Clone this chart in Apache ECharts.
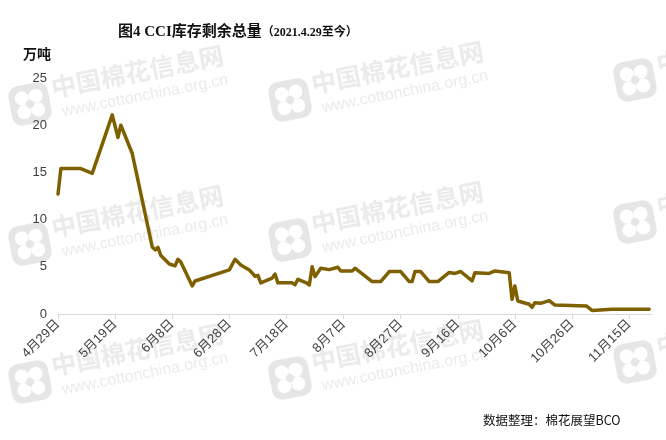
<!DOCTYPE html>
<html>
<head>
<meta charset="utf-8">
<script src="https://cdn.jsdelivr.net/npm/echarts@6/dist/echarts.min.js"></script>
<style>html,body{margin:0;padding:0;background:#fff}#c{width:666px;height:440px}</style>
</head>
<body>
<div id="c"></div>
<script>
// ---- data ----
const startDate = '2021-04-29';
const dates = ['2021-04-29','2021-04-30','2021-05-07','2021-05-11','2021-05-18','2021-05-20','2021-05-21','2021-05-25',
'2021-06-01','2021-06-02','2021-06-03','2021-06-04','2021-06-07','2021-06-09','2021-06-10','2021-06-11','2021-06-15','2021-06-16',
'2021-06-28','2021-06-30','2021-07-02','2021-07-05','2021-07-07','2021-07-08','2021-07-09','2021-07-13','2021-07-14','2021-07-15',
'2021-07-20','2021-07-21','2021-07-22','2021-07-25','2021-07-26','2021-07-27','2021-07-28','2021-07-30',
'2021-08-02','2021-08-05','2021-08-06','2021-08-10','2021-08-11','2021-08-17','2021-08-20','2021-08-23','2021-08-27','2021-08-30','2021-08-31',
'2021-09-01','2021-09-03','2021-09-06','2021-09-09','2021-09-13','2021-09-15','2021-09-17','2021-09-21','2021-09-22','2021-09-27','2021-09-29',
'2021-10-04','2021-10-05','2021-10-06','2021-10-07','2021-10-11','2021-10-12','2021-10-13','2021-10-15','2021-10-18','2021-10-20','2021-10-31',
'2021-11-02','2021-11-09','2021-11-22'];
const stock = [12.7,15.4,15.4,14.9,21.1,18.7,20.0,17.0,
7.1,6.8,7.05,6.2,5.3,5.1,5.8,5.5,2.97,3.5,
4.67,5.8,5.2,4.67,4.0,4.1,3.3,3.8,4.24,3.3,
3.3,3.1,3.68,3.3,3.07,5.0,3.96,4.85,
4.7,4.95,4.56,4.56,4.85,3.43,3.43,4.5,4.5,3.43,3.43,
4.5,4.5,3.43,3.43,4.4,4.3,4.5,3.5,4.38,4.3,4.56,
4.38,1.56,2.97,1.38,1.03,0.71,1.2,1.13,1.41,0.95,0.85,
0.38,0.5,0.5];
const xTickDays = [0,20,40,60,80,100,120,140,160,180,200];
const yTicks = [0,5,10,15,20,25];
const titleMain = '图4 CCI库存剩余总量';
const titleSub = '（2021.4.29至今）';
const unitLabel = '万吨';
const sourceLabel = '数据整理：棉花展望BCO';
const wmCN = '中国棉花信息网';
const wmURL = 'www.cottonchina.org.cn';

// ---- helpers ----
const DAY = 86400000;
const t0 = Date.parse(startDate + 'T00:00:00Z');
const dayIdx = s => Math.round((Date.parse(s + 'T00:00:00Z') - t0) / DAY);
const fmtDay = v => { const d = new Date(t0 + v * DAY); return (d.getUTCMonth() + 1) + '月' + d.getUTCDate() + '日'; };
const seriesData = dates.map((d, i) => [dayIdx(d), stock[i]]);

const CJK = '"Liberation Sans","Noto Sans CJK SC",sans-serif';
const SERIF = '"Liberation Serif","Noto Sans CJK SC",serif';
const WM = '#ebebeb';

function watermark(x, y) {
  return {
    type: 'group', x: x, y: y, rotation: 11 * Math.PI / 180, silent: true, z: -10,
    children: [
      { type: 'rect', shape: { x: -20, y: -20, width: 40, height: 40, r: 10 }, style: { fill: '#e6e6e6' } },
      { type: 'circle', shape: { cx: -7, cy: -7, r: 7 }, style: { fill: '#fff' } },
      { type: 'circle', shape: { cx: 7, cy: -7, r: 7 }, style: { fill: '#fff' } },
      { type: 'circle', shape: { cx: -7, cy: 7, r: 7 }, style: { fill: '#fff' } },
      { type: 'circle', shape: { cx: 7, cy: 7, r: 7 }, style: { fill: '#fff' } },
      { type: 'circle', shape: { cx: 0, cy: 0, r: 4 }, style: { fill: '#e6e6e6' } },
      { type: 'text', x: 24, y: -24, style: { text: wmCN, fill: WM, font: 'bold 25px "Noto Sans CJK SC", sans-serif' } },
      { type: 'text', x: 30, y: 6, style: { text: wmURL, fill: WM, font: '16px "Liberation Sans", sans-serif' } }
    ]
  };
}
const wmPos = [[30,104],[290,100],[635,80],[30,244],[290,240],[635,222],[30,382],[290,378],[635,362]];

const chart = echarts.init(document.getElementById('c'), null, { renderer: 'canvas' });
chart.setOption({
  animation: false,
  backgroundColor: '#fff',
  title: {
    text: '{a|' + titleMain + '}{b|' + titleSub + '}',
    left: 113, top: 20,
    textStyle: {
      rich: {
        a: { fontFamily: SERIF, fontWeight: 'bold', fontSize: 15, color: '#111' },
        b: { fontFamily: SERIF, fontWeight: 'bold', fontSize: 12, color: '#111' }
      }
    }
  },
  graphic: wmPos.map(p => watermark(p[0], p[1])).concat([
    { type: 'text', left: 23, top: 47, style: { text: unitLabel, fill: '#111', font: 'bold 14px "Noto Sans CJK SC", sans-serif' } },
    { type: 'text', left: 483, top: 414, style: { text: sourceLabel, fill: '#111', font: '12.5px "Noto Sans CJK SC", sans-serif' } }
  ]),
  grid: { left: 58, right: 14, top: 78, bottom: 126, containLabel: false },
  xAxis: {
    type: 'value', min: 0, max: 208, interval: 20,
    axisLine: { show: true, lineStyle: { color: '#d9d9d9', width: 1 } },
    axisTick: { show: true, length: 5, lineStyle: { color: '#d9d9d9' }, customValues: xTickDays },
    splitLine: { show: false },
    axisLabel: {
      customValues: xTickDays, rotate: 45, margin: 8,
      fontSize: 13, color: '#404040', fontFamily: CJK,
      formatter: v => fmtDay(v)
    }
  },
  yAxis: {
    type: 'value', min: 0, max: 25, interval: 5,
    axisLine: { show: false }, axisTick: { show: false }, splitLine: { show: false },
    axisLabel: { customValues: yTicks, fontSize: 13, color: '#404040', fontFamily: CJK, margin: 11 }
  },
  series: [{
    type: 'line', data: seriesData, showSymbol: false, symbol: 'none',
    lineStyle: { color: '#7f6000', width: 3.5, join: 'round', cap: 'round' },
    z: 5
  }]
});
</script>
</body>
</html>
